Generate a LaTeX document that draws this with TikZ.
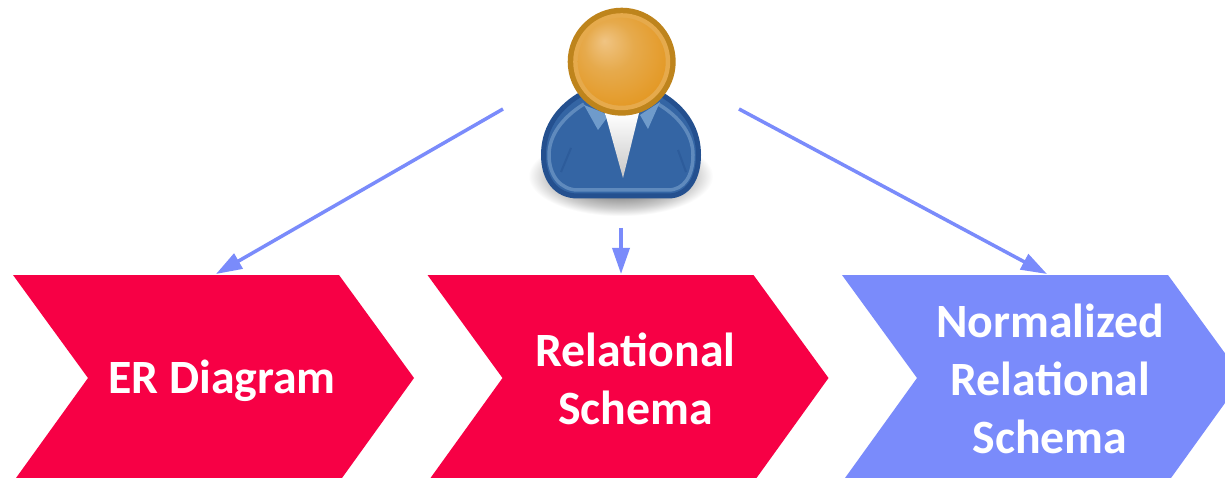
\documentclass[tikz,border=0pt]{standalone}
\usepackage{fontspec}
\setmainfont{Carlito}
\usetikzlibrary{arrows.meta}
\definecolor{chevred}{HTML}{F70045}
\definecolor{chevblue}{HTML}{7A8BFB}
\definecolor{bodyblue}{HTML}{3465A4}
\definecolor{bodyedge}{HTML}{24508F}
\definecolor{bodylight}{HTML}{5F8ABD}
\definecolor{collar}{HTML}{6F9BCB}
\definecolor{ringdark}{HTML}{BE841C}
\definecolor{ringlight}{HTML}{E6AA4C}
\definecolor{ballmid}{HTML}{E49A28}
\definecolor{ballhi}{HTML}{F0C483}
\pgfdeclareradialshading{ballshade}{\pgfpoint{-10bp}{12bp}}{
  color(0bp)=(ballhi); color(14bp)=(ringlight); color(30bp)=(ballmid); color(50bp)=(ballmid)}
\pgfdeclareradialshading{dropshade}{\pgfpointorigin}{
  color(0bp)=(black!60); color(12bp)=(black!45); color(20bp)=(black!20); color(25bp)=(white); color(50bp)=(white)}
\tikzset{
  x=1pt,y=-1pt,
  chevtext/.style={text=white,font=\fontsize{47.8}{58}\selectfont\bfseries,align=center,inner sep=0pt},
  flow/.style={draw=chevblue,line width=3.5pt,-{Triangle[length=26pt,width=17pt]}},
}
\newcommand{\chevron}[2]{%
  \fill[#2,shift={(#1,0)}] (13,275) -- (339,275) -- (414,378) -- (342,478) -- (16,478) -- (88,378) -- cycle;}
\begin{document}
\begin{tikzpicture}
\useasboundingbox (0,0) rectangle (1225,478);
\clip (0,0) rectangle (1225,478);
\fill[white] (0,0) rectangle (1225,478);
% chevrons
\chevron{0}{chevred}
\chevron{414.5}{chevred}
\chevron{829}{chevblue}
\node[chevtext] (er) at (222,381) {ER Diagram};
\node[chevtext] (rs) at (635.5,379) {Relational\\Schema};
\node[chevtext] (nr) at (1050,378.5) {Normalized\\Relational\\Schema};
% person
\shade[shading=dropshade,xscale=2.1,yscale=1.0,shift={(295.5,176)}] (-44,-40) rectangle (44,40);
\path[fill=bodyblue,draw=bodyedge,line width=5pt]
  (578,96) .. controls (556,110) and (543.5,130) .. (543.5,155)
  .. controls (543.5,178) and (555,196) .. (578,196)
  -- (668,196)
  .. controls (688,196) and (698.5,178) .. (698.5,155)
  .. controls (698.5,130) and (686,110) .. (664,96)
  .. controls (640,84) and (602,84) .. (578,96) -- cycle;
\draw[bodylight,line width=3.5pt,line join=round]
  (584,104) .. controls (563,117) and (549,135) .. (549,155)
  .. controls (549,176) and (561,190) .. (578,190)
  -- (668,190)
  .. controls (684,190) and (693,176) .. (693,155)
  .. controls (693,135) and (680,117) .. (658,104);
\draw[bodyedge!45!bodyblue,line width=2pt] (571,148) -- (561,172);
\draw[bodyedge!45!bodyblue,line width=2pt] (678,150) -- (686,172);
\fill[collar] (584,105) -- (598,130) -- (609,115) -- cycle;
\fill[collar] (640,115) -- (648,129) -- (660,102) -- cycle;
\shade[top color=white,bottom color=black!22] (605,113) -- (639,113) -- (623,178) -- cycle;
\fill[ringdark] (621.7,61.7) circle[radius=54];
\fill[ringlight] (621.7,61.7) circle[radius=48.5];
\shade[shading=ballshade] (621.7,61.7) circle[radius=44];
\node[circle,minimum size=108pt,inner sep=0pt] (person) at (621.7,61.7) {};
% connectors
\coordinate (fromleft) at (503,109);
\coordinate (frommid) at (621,228);
\coordinate (fromright) at (739,109);
\coordinate (toleft) at (216,274);
\coordinate (tomid) at (621,274);
\coordinate (toright) at (1047,274);
\draw[flow] (fromleft) -- (toleft);
\draw[flow] (frommid) -- (tomid);
\draw[flow] (fromright) -- (toright);
\end{tikzpicture}
\end{document}
